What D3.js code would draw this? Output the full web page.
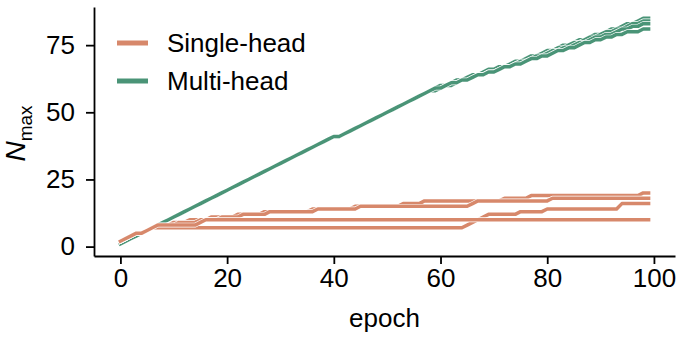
<!DOCTYPE html>
<html>
<head>
<meta charset="utf-8">
<script src="https://cdn.jsdelivr.net/npm/d3@7"></script>
<style>
  body { margin: 0; background: #fff; }
  text { font-family: "Liberation Sans", Arial, Helvetica, sans-serif; }
</style>
</head>
<body>
<svg id="chart"></svg>
<script>
// series values, one value per epoch (index = epoch)
const singleHead = [
  [2,3,4,5,5,6,7,8,8,8, 9,9,9,10,10,10,10,11,11,11, 11,11,12,12,12,12,12,13,13,13,
   13,13,13,13,13,13,14,14,14,14, 14,14,14,14,15,15,15,15,15,15, 15,15,15,16,16,16,16,17,17,17,
   17,17,17,17,17,17,17,17,17,17, 17,17,18,18,18,18,18,19,19,19, 19,19,19,19,19,19,19,19,19,19,
   19,19,19,19,19,19,19,19,20,20],
  [2,3,4,5,5,6,7,8,8,8, 8,9,9,9,9,10,10,10,10,11, 11,11,11,12,12,12,12,12,13,13,
   13,13,13,13,13,13,13,14,14,14, 14,14,14,14,14,15,15,15,15,15, 15,15,15,15,15,15,15,15,15,15,
   15,15,15,15,15,15,16,17,17,17, 17,17,17,17,17,17,17,17,17,17, 17,18,18,18,18,18,18,18,18,18,
   18,18,18,18,18,18,18,18,18,18],
  [2,3,4,5,5,6,7,7,7,7, 7,7,7,7,7,7,7,7,7,7, 7,7,7,7,7,7,7,7,7,7,
   7,7,7,7,7,7,7,7,7,7, 7,7,7,7,7,7,7,7,7,7, 7,7,7,7,7,7,7,7,7,7,
   7,7,7,7,7,8,9,10,11,12, 12,12,12,12,12,13,13,13,13,13, 14,14,14,14,14,14,14,14,14,14,
   14,14,14,14,16,16,16,16,16,16],
  [2,3,4,5,5,6,7,8,8,8, 8,8,8,8,8,9,10,10,10,10, 10,10,10,10,10,10,10,10,10,10,
   10,10,10,10,10,10,10,10,10,10, 10,10,10,10,10,10,10,10,10,10, 10,10,10,10,10,10,10,10,10,10,
   10,10,10,10,10,10,10,10,10,10, 10,10,10,10,10,10,10,10,10,10, 10,10,10,10,10,10,10,10,10,10,
   10,10,10,10,10,10,10,10,10,10]
];

const multiHead = [
  [1,2,3,4,5,6,7,8,9,10, 11,12,13,14,15,16,17,18,19,20, 21,22,23,24,25,26,27,28,29,30,
   31,32,33,34,35,36,37,38,39,40, 41,41,42,43,44,45,46,47,48,49, 50,51,52,53,54,55,56,57,58,59,
   59,60,61,61,62,63,63,64,65,65, 66,67,67,68,69,69,70,71,71,72, 73,73,74,75,75,76,77,77,78,79,
   79,80,81,81,82,83,83,84,85,85],
  [1,2,3,4,5,6,7,8,9,10, 11,12,13,14,15,16,17,18,19,20, 21,22,23,24,25,26,27,28,29,30,
   31,32,33,34,35,36,37,38,39,40, 41,41,42,43,44,45,46,47,48,49, 50,51,52,53,54,55,56,57,58,59,
   60,60,61,62,62,63,64,64,65,66, 66,67,67,68,69,69,70,71,71,72, 73,73,74,74,75,76,76,77,78,78,
   79,80,80,81,81,82,83,83,84,84],
  [1,2,3,4,5,6,7,8,9,10, 11,12,13,14,15,16,17,18,19,20, 21,22,23,24,25,26,27,28,29,30,
   31,32,33,34,35,36,37,38,39,40, 41,41,42,43,44,45,46,47,48,49, 50,51,52,53,54,55,56,57,58,58,
   59,60,60,61,62,62,63,64,64,65, 65,66,67,67,68,69,69,70,71,71, 72,73,73,74,74,75,76,76,77,78,
   78,79,79,80,81,81,82,82,83,83],
  [1,2,3,4,5,6,7,8,9,10, 11,12,13,14,15,16,17,18,19,20, 21,22,23,24,25,26,27,28,29,30,
   31,32,33,34,35,36,37,38,39,40, 41,41,42,43,44,45,46,47,48,49, 50,51,52,53,54,55,56,57,58,59,
   59,60,61,61,62,62,63,64,64,65, 65,66,67,67,68,68,69,70,70,71, 71,72,73,73,74,74,75,76,76,77,
   77,78,78,79,79,80,80,80,81,81]
];

const legendLabels = ["Single-head", "Multi-head"];
const xTicks = [0, 20, 40, 60, 80, 100];
const yTicks = [0, 25, 50, 75];

const svgWidth = 685;
const svgHeight = 343;
const margin = { top: 7, right: 10, bottom: 87, left: 94 };
const width = svgWidth - margin.left - margin.right;
const height = svgHeight - margin.top - margin.bottom;

const orange = "#d7886b";
const green = "#4a9477";

const svg = d3.select("#chart")
    .attr("width", svgWidth)
    .attr("height", svgHeight);

const chart = svg.append("g")
    .attr("transform", `translate(${margin.left},${margin.top})`);

const xScale = d3.scaleLinear().domain([-4.95, 103.95]).range([0, width]);
const yScale = d3.scaleLinear().domain([-3.5, 89.2]).range([height, 0]);

const line = d3.line()
    .x((d, i) => xScale(i))
    .y(d => yScale(d));

// draw each run with a thin white edge so overlapping runs separate
function drawRun(values, color) {
    chart.append("path")
        .attr("d", line(values))
        .attr("fill", "none")
        .attr("stroke", "#fff")
        .attr("stroke-width", 4.8)
        .attr("stroke-linejoin", "round")
        .attr("stroke-linecap", "square");
    chart.append("path")
        .attr("d", line(values))
        .attr("fill", "none")
        .attr("stroke", color)
        .attr("stroke-width", 3.5)
        .attr("stroke-linejoin", "round")
        .attr("stroke-linecap", "square");
}

multiHead.forEach(s => drawRun(s, green));
singleHead.forEach(s => drawRun(s, orange));

// axes
const xAxis = d3.axisBottom(xScale)
    .tickValues(xTicks)
    .tickSize(8)
    .tickSizeOuter(0)
    .tickPadding(5);

const yAxis = d3.axisLeft(yScale)
    .tickValues(yTicks)
    .tickSize(8)
    .tickSizeOuter(0)
    .tickPadding(11);

const gx = chart.append("g")
    .attr("transform", `translate(0,${height})`)
    .call(xAxis);

const gy = chart.append("g")
    .call(yAxis);

[gx, gy].forEach(g => {
    g.select(".domain").attr("stroke", "#000").attr("stroke-width", 1.8);
    g.selectAll(".tick line").attr("stroke", "#000").attr("stroke-width", 1.8);
    g.selectAll(".tick text")
        .attr("fill", "#000")
        .style("font-size", "26px")
        .style("font-family", "'Liberation Sans', Arial, sans-serif");
});

// x label
chart.append("text")
    .attr("text-anchor", "middle")
    .attr("x", width / 2)
    .attr("y", height + 71)
    .style("font-size", "26px")
    .text("epoch");

// y label: N with subscript max
const ylab = chart.append("text")
    .attr("text-anchor", "middle")
    .attr("transform", `translate(${-69},${height / 2 + 2}) rotate(-90)`)
    .style("font-size", "28px");
ylab.append("tspan").style("font-style", "italic").text("N");
ylab.append("tspan").attr("dy", 7).style("font-size", "19px").text("max");

// legend
const legend = chart.append("g")
    .attr("transform", "translate(23,36)");

[orange, green].forEach((c, i) => {
    const row = legend.append("g").attr("transform", `translate(0,${i * 38})`);
    row.append("line")
        .attr("x1", 0).attr("x2", 31)
        .attr("y1", 0).attr("y2", 0)
        .attr("stroke", c)
        .attr("stroke-width", 5);
    row.append("text")
        .attr("x", 50)
        .attr("y", 0)
        .attr("dy", "0.35em")
        .style("font-size", "26px")
        .text(legendLabels[i]);
});
</script>
</body>
</html>
